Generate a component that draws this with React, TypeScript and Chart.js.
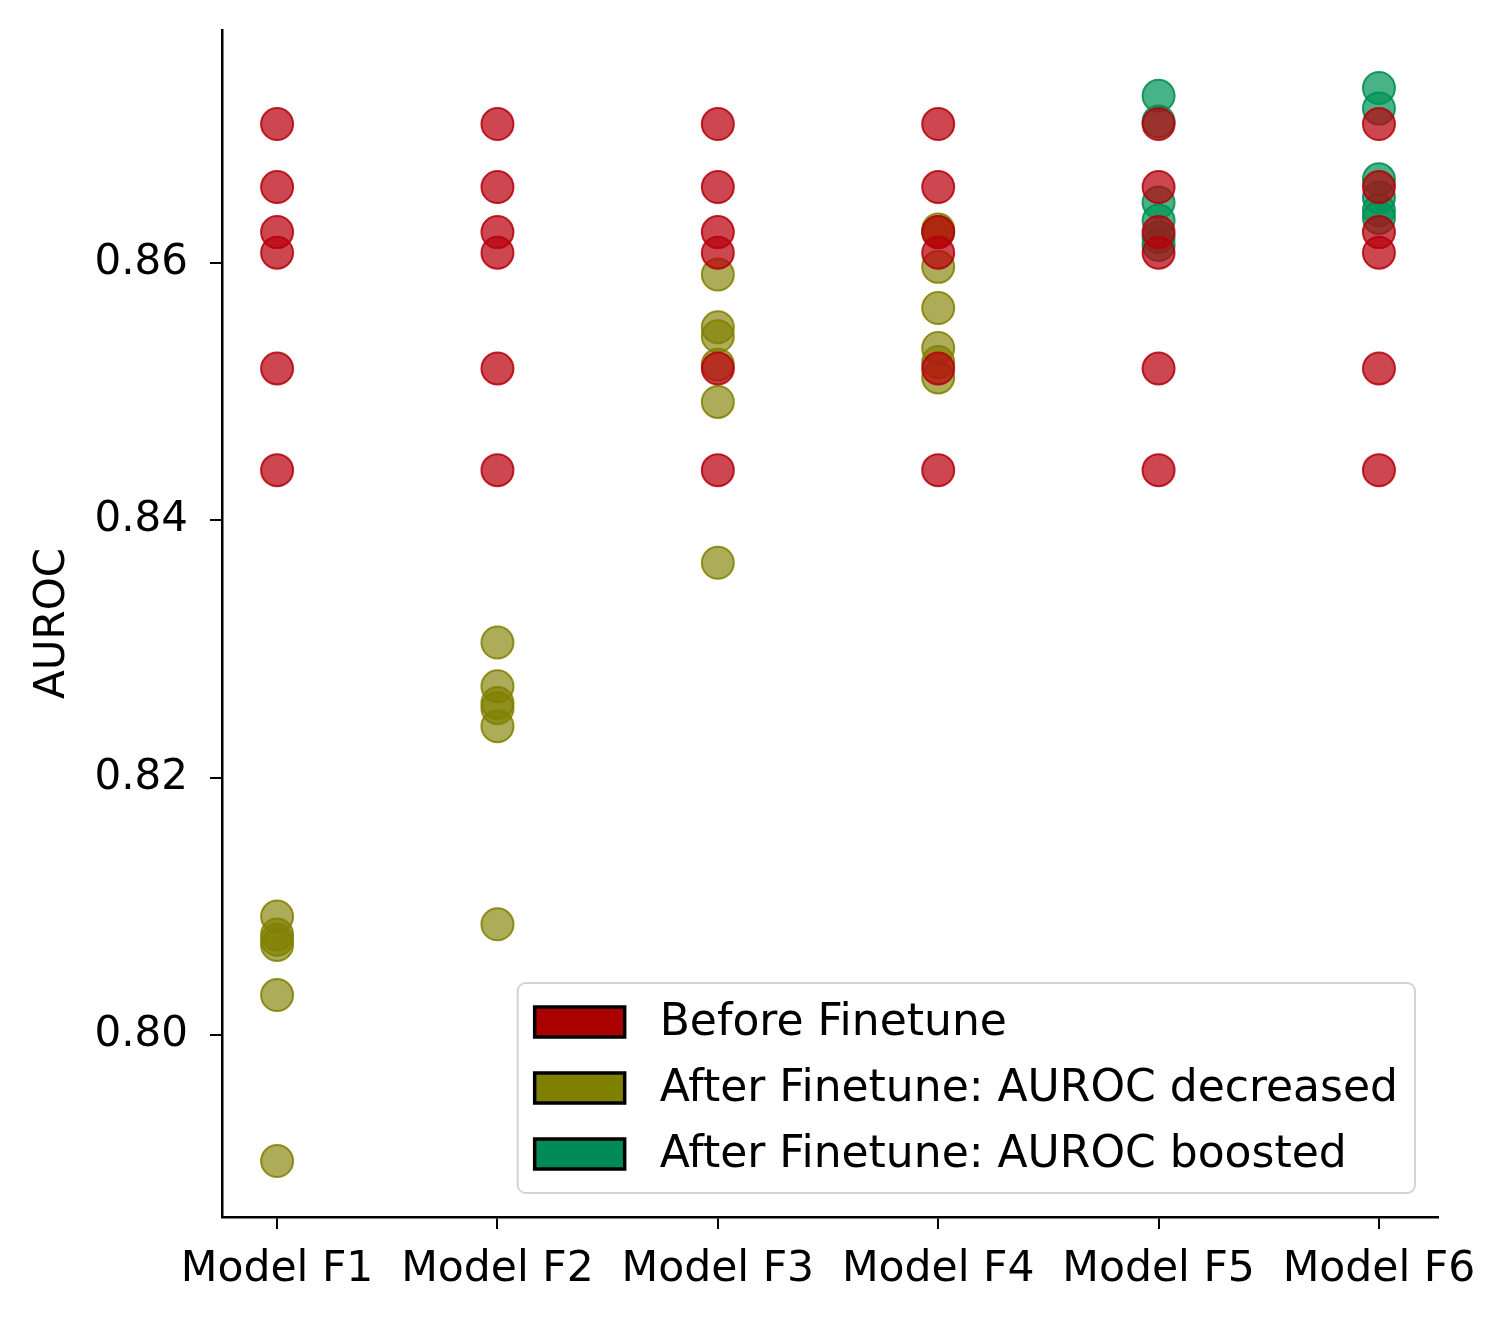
import React, { useEffect, useRef } from "react";
import { Chart, registerables } from "chart.js";

Chart.register(...registerables);

const categories = ["Model F1", "Model F2", "Model F3", "Model F4", "Model F5", "Model F6"];
const yTickValues = [0.8, 0.82, 0.84, 0.86];

// AUROC before finetuning (same baseline for every model)
const beforeValues = [0.8708, 0.8659, 0.8624, 0.8608, 0.8518, 0.8439];

// After finetune, AUROC decreased (per model index)
const decreasedF1 = [0.8092, 0.8078, 0.8074, 0.807, 0.8031, 0.7902];
const decreasedF2 = [0.8305, 0.8271, 0.8258, 0.8254, 0.824, 0.8086];
const decreasedF3 = [0.8591, 0.855, 0.8543, 0.8521, 0.8492, 0.8367];
const decreasedF4 = [0.8626, 0.8624, 0.8597, 0.8565, 0.8534, 0.8523, 0.8511];

// After finetune, AUROC boosted
const boostedF5 = [0.873, 0.871, 0.8647, 0.8633, 0.862, 0.8614];
const boostedF6 = [0.8736, 0.872, 0.8665, 0.8651, 0.8641, 0.8635];

const legendLabels = [
  "Before Finetune",
  "After Finetune: AUROC decreased",
  "After Finetune: AUROC boosted",
];
const legendColors = ["#aa0000", "#808000", "#008a58"];

const FONT = "'DejaVu Sans', sans-serif";

const pts = (idx: number, vals: number[]) => vals.map((y) => ({ x: idx, y }));

export default function App() {
  const ref = useRef<HTMLCanvasElement | null>(null);

  useEffect(() => {
    document.body.style.margin = "0";
    const canvas = ref.current;
    if (!canvas) return;

    const beforeData = categories.flatMap((_, i) => pts(i, beforeValues));
    const decreasedData = [
      ...pts(0, decreasedF1),
      ...pts(1, decreasedF2),
      ...pts(2, decreasedF3),
      ...pts(3, decreasedF4),
    ];
    const boostedData = [...pts(4, boostedF5), ...pts(5, boostedF6)];

    const legendPlugin = {
      id: "innerLegend",
      afterDraw(chart: any) {
        const ctx = chart.ctx as CanvasRenderingContext2D;
        const area = chart.chartArea;
        ctx.save();
        ctx.font = `44px ${FONT}`;
        const textW = Math.max(...legendLabels.map((t) => ctx.measureText(t).width));
        const padL = 17;
        const patchW = 90;
        const patchH = 30;
        const gap = 35;
        const padR = 17;
        const rowH = 66;
        const w = padL + patchW + gap + textW + padR;
        const h = 210;
        const right = area.right - 23;
        const bottom = area.bottom - 24;
        const left = right - w;
        const top = bottom - h;
        ctx.beginPath();
        ctx.roundRect(left, top, w, h, 8);
        ctx.fillStyle = "rgba(255,255,255,0.85)";
        ctx.fill();
        ctx.lineWidth = 2;
        ctx.strokeStyle = "#d4d4d4";
        ctx.stroke();
        legendLabels.forEach((label, i) => {
          const cy = top + 39 + i * rowH;
          ctx.fillStyle = legendColors[i];
          ctx.fillRect(left + padL, cy - patchH / 2, patchW, patchH);
          ctx.lineWidth = 3.5;
          ctx.strokeStyle = "#000";
          ctx.strokeRect(left + padL, cy - patchH / 2, patchW, patchH);
          ctx.fillStyle = "#000";
          ctx.textBaseline = "middle";
          ctx.textAlign = "left";
          ctx.fillText(label, left + padL + patchW + gap, cy + 2);
        });
        ctx.restore();
      },
    };

    const chart = new Chart(canvas, {
      type: "scatter",
      data: {
        datasets: [
          {
            label: legendLabels[0],
            data: beforeData,
            backgroundColor: "rgba(186,0,12,0.72)",
            borderColor: "rgba(180,0,12,0.85)",
            borderWidth: 2,
            pointRadius: 16,
          },
          {
            label: legendLabels[1],
            data: decreasedData,
            backgroundColor: "rgba(128,128,0,0.65)",
            borderColor: "rgba(128,128,0,0.85)",
            borderWidth: 2,
            pointRadius: 16,
          },
          {
            label: legendLabels[2],
            data: boostedData,
            backgroundColor: "rgba(0,150,88,0.72)",
            borderColor: "rgba(0,140,80,0.85)",
            borderWidth: 2,
            pointRadius: 16,
          },
        ],
      },
      options: {
        responsive: false,
        animation: false,
        devicePixelRatio: 1,
        layout: { padding: { left: 0, top: 30, right: 70, bottom: 0 } },
        plugins: {
          legend: { display: false },
          tooltip: { enabled: false },
        },
        scales: {
          x: {
            type: "linear",
            min: -0.25,
            max: 5.268,
            afterBuildTicks: (scale: any) => {
              scale.ticks = categories.map((_, i) => ({ value: i }));
            },
            afterFit: (scale: any) => {
              scale.height = 105;
              scale.paddingLeft = 0;
              scale.paddingRight = 0;
            },
            ticks: {
              autoSkip: false,
              maxRotation: 0,
              padding: 15,
              color: "#000",
              font: { family: FONT, size: 42.5 },
              callback: (v: any) => categories[Math.round(Number(v))] ?? "",
            },
            grid: {
              display: true,
              drawOnChartArea: false,
              drawTicks: true,
              tickLength: 12,
              color: "#000",
              lineWidth: 2,
            },
            border: { display: true, color: "#000", width: 2.5 },
          },
          y: {
            type: "linear",
            min: 0.78585,
            max: 0.87811,
            afterBuildTicks: (scale: any) => {
              scale.ticks = yTickValues.map((v) => ({ value: v }));
            },
            afterFit: (scale: any) => {
              scale.width = 222;
              scale.paddingTop = 0;
              scale.paddingBottom = 0;
            },
            ticks: {
              padding: 22,
              color: "#000",
              font: { family: FONT, size: 42 },
              callback: (v: any) => Number(v).toFixed(2),
            },
            title: {
              display: true,
              text: "AUROC",
              color: "#000",
              font: { family: FONT, size: 42 },
              padding: { top: 28, bottom: 0 },
            },
            grid: {
              display: true,
              drawOnChartArea: false,
              drawTicks: true,
              tickLength: 12,
              color: "#000",
              lineWidth: 2,
            },
            border: { display: true, color: "#000", width: 2.5 },
          },
        },
      },
      plugins: [legendPlugin],
    } as any);

    return () => chart.destroy();
  }, []);

  return (
    <div style={{ width: 1508, height: 1322 }}>
      <canvas ref={ref} width={1508} height={1322} style={{ display: "block" }} />
    </div>
  );
}
